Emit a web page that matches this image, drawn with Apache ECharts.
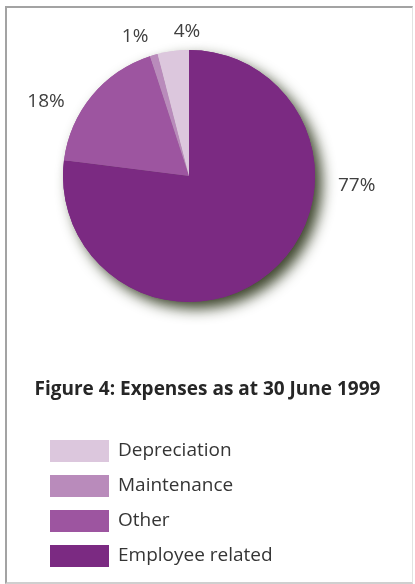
<!DOCTYPE html>
<html>
<head>
<meta charset="utf-8">
<title>Figure 4: Expenses as at 30 June 1999</title>
<script src="https://cdn.jsdelivr.net/npm/echarts@6/dist/echarts.min.js"></script>
<style>
  html, body { margin: 0; padding: 0; background: #ffffff; }
  #wrap { position: relative; width: 415px; height: 584px; }
  #frame {
    position: absolute; left: 5px; top: 6px; width: 405px; height: 574px;
    border-top: 2px solid #a3a3a3; border-left: 2px solid #a3a3a3;
    border-right: 1px solid #e2e2e2; border-bottom: 2px solid #cfcfcf;
    pointer-events: none;
  }
  #chart { position: absolute; left: 0; top: 0; width: 415px; height: 584px; }
</style>
</head>
<body>
<div id="wrap">
  <div id="chart"></div>
  <div id="frame"></div>
</div>
<script>
// Expense categories, in drawing order (clockwise from 12 o'clock)
const categories = ['Employee related', 'Other', 'Maintenance', 'Depreciation'];
// Share of total expenses, per cent
const shares = [77, 18, 1, 4];
// Legend lists the categories lightest first
const legendOrder = ['Depreciation', 'Maintenance', 'Other', 'Employee related'];
const titleText = 'Figure 4: Expenses as at 30 June 1999';

const sliceColors = ['#7b2a82', '#9d55a0', '#b98bbb', '#dcc7dd'];

// Pie geometry
const CX = 189, CY = 176, R = 126;
// Where each percentage sits around the pie: polar angle (deg, anticlockwise from east) and distance from centre
const labelAngle = [-3.4, 152.6, 111.2, 90.8];
const labelDist = [168, 161, 149, 144];

const pieData = categories.map((name, i) => ({
  name: name,
  value: shares[i],
  itemStyle: { color: sliceColors[i] }
}));

const chart = echarts.init(document.getElementById('chart'), null, { renderer: 'canvas' });

chart.setOption({
  backgroundColor: 'transparent',
  animation: false,
  title: {
    text: titleText,
    left: 'center',
    top: 375,
    textStyle: {
      fontFamily: 'Open Sans',
      fontWeight: 'bold',
      fontSize: 19,
      color: '#262626'
    }
  },
  legend: {
    orient: 'vertical',
    left: 45,
    top: 435,
    data: legendOrder,
    icon: 'rect',
    itemWidth: 59,
    itemHeight: 22,
    itemGap: 13,
    selectedMode: false,
    textStyle: {
      fontFamily: 'Open Sans',
      fontSize: 19,
      color: '#353535',
      padding: [0, 0, 0, 4]
    }
  },
  series: [
    {
      // soft drop shadow beneath the pie
      type: 'pie',
      silent: true,
      center: [CX, CY],
      radius: [0, R],
      startAngle: 90,
      clockwise: true,
      data: pieData,
      label: { show: false },
      labelLine: { show: false },
      itemStyle: {
        shadowColor: 'rgba(52, 60, 34, 0.95)',
        shadowBlur: 14,
        shadowOffsetX: 7,
        shadowOffsetY: 7
      },
      z: 1
    },
    {
      type: 'pie',
      name: 'Expenses',
      center: [CX, CY],
      radius: [0, R],
      startAngle: 90,
      clockwise: true,
      data: pieData,
      label: {
        show: true,
        formatter: '{c}%',
        fontFamily: 'Open Sans',
        fontSize: 19,
        color: '#404040'
      },
      labelLine: { show: false },
      labelLayout: function (p) {
        const a = labelAngle[p.dataIndex] * Math.PI / 180;
        const d = labelDist[p.dataIndex];
        return {
          x: CX + d * Math.cos(a),
          y: CY - d * Math.sin(a),
          align: 'center',
          verticalAlign: 'middle'
        };
      },
      emphasis: { disabled: true },
      z: 2
    }
  ]
});
</script>
</body>
</html>
